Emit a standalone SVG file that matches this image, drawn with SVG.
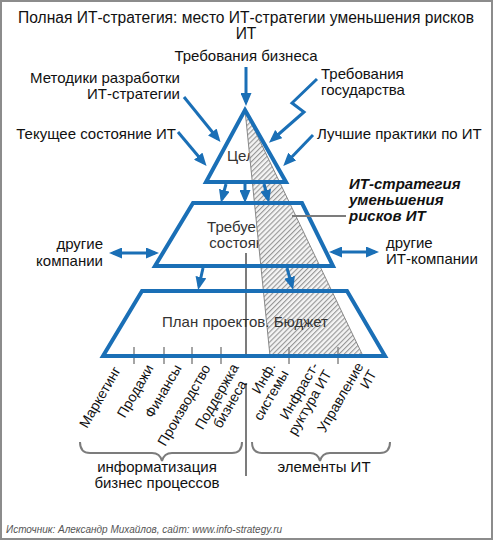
<svg xmlns="http://www.w3.org/2000/svg" width="493" height="540" viewBox="0 0 493 540">
<style>
text{font-family:"Liberation Sans",Arial,sans-serif;fill:#111}
.lbl{font-size:15px}
.sm{font-size:14px}
.in{font-size:15px;fill:#333;text-anchor:middle}
.blue{fill:none;stroke:#1a6fb6;stroke-width:4;stroke-linejoin:miter}
.arr{fill:none;stroke:#1a6fb6;stroke-width:3;marker-end:url(#ah)}
.dbl{fill:none;stroke:#1a6fb6;stroke-width:3;marker-end:url(#ah);marker-start:url(#ah)}
.gr{fill:none;stroke:#7c7c7c;stroke-width:2}
.rot{font-size:14px;text-anchor:end}
.bi{font-size:15px;font-weight:bold;font-style:italic}
</style>
<defs>
<marker id="ah" markerWidth="13" markerHeight="11" refX="9" refY="5.5" orient="auto-start-reverse" markerUnits="userSpaceOnUse">
<path d="M0,0 L13,5.5 L0,11 z" fill="#1a6fb6"/>
</marker>
<pattern id="hatch" patternUnits="userSpaceOnUse" width="3.6" height="3.6" patternTransform="rotate(45)">
<rect width="3.6" height="3.6" fill="#f4f4f4"/>
<line x1="0.6" y1="0" x2="0.6" y2="3.6" stroke="#8a8a8a" stroke-width="1"/>
</pattern>
</defs>
<rect x="1" y="1" width="491" height="538" fill="#fff" stroke="#8c8c8c" stroke-width="2"/>
<g id="title">
<text x="246" y="23" text-anchor="middle" style="font-size:15.6px">Полная ИТ-стратегия: место ИТ-стратегии уменьшения рисков</text>
<text x="246" y="39" text-anchor="middle" style="font-size:15.6px">ИТ</text>
</g>
<g id="goals-text"><text class="in" x="245" y="161">Цели</text></g>
<g id="req-text"><text class="in" x="245" y="232">Требуемое</text><text class="in" x="245" y="248">состояние</text></g>
<g id="hatched-strategy"><path d="M245,110 L363,356 L270,356 Z" fill="url(#hatch)" stroke="#888" stroke-width="1"/></g>
<g id="divider"><path class="gr" d="M246,253 V356 M246,383 V476"/></g>
<g id="ticks"><path stroke="#888" stroke-width="1.5" d="M134,347V364 M164,347V364 M192,347V364 M221,347V364 M289,347V364 M338,347V364"/></g>
<g id="goals"><path class="blue" d="M245,110 L286,182 L206,182 Z"/></g>
<g id="required-state"><path class="blue" d="M193,203 L302,203 L333,266 L155,266 Z"/></g>
<g id="plan"><path class="blue" d="M142,291 L347,291 L385,356 L103,356 Z"/>
<text class="in" x="245" y="327">План проектов. Бюджет</text></g>
<g id="connectors">
<path class="arr" d="M246,67 V102"/>
<path class="arr" d="M184,97 L218,139"/>
<path class="arr" d="M317,79 L292,103 L304,112 L272,140"/>
<path class="arr" d="M178,132 L204,163"/>
<path class="arr" d="M313,135 L286,163"/>
<path class="arr" d="M226,184 L222,199"/>
<path class="arr" d="M245,184 V199"/>
<path class="arr" d="M264,184 L268,199"/>
<path class="arr" d="M203,268 L199,286"/>
<path class="arr" d="M287,268 L292,286"/>
<path class="dbl" d="M113,253 H155"/>
<path class="dbl" d="M333,252 H375"/>
<path class="gr" d="M292,216 H346"/>
</g>
<g id="labels-top">
<text class="lbl" x="246" y="61" text-anchor="middle">Требования бизнеса</text>
<text class="lbl" x="180" y="83" text-anchor="end">Методики разработки</text>
<text class="lbl" x="180" y="99" text-anchor="end">ИТ-стратегии</text>
<text class="lbl" x="321" y="79">Требования</text>
<text class="lbl" x="321" y="95">государства</text>
<text class="lbl" x="176" y="139" text-anchor="end">Текущее состояние ИТ</text>
<text class="lbl" x="317" y="139">Лучшие практики по ИТ</text>
</g>
<g id="other-companies">
<text class="lbl" x="103" y="249" text-anchor="end">другие</text>
<text class="lbl" x="103" y="266" text-anchor="end">компании</text>
</g>
<g id="other-it-companies">
<text class="lbl" x="386" y="248">другие</text>
<text class="lbl" x="386" y="264">ИТ-компании</text>
</g>
<g id="strategy-label">
<text class="bi" x="349" y="189">ИТ-стратегия</text>
<text class="bi" x="349" y="205">уменьшения</text>
<text class="bi" x="349" y="221">рисков ИТ</text>
</g>
<g id="bottom-labels">
<text class="rot" transform="translate(121,370) rotate(-60)">Маркетинг</text>
<text class="rot" transform="translate(154,368) rotate(-60)">Продажи</text>
<text class="rot" transform="translate(182,368) rotate(-60)">Финансы</text>
<text class="rot" transform="translate(211,368) rotate(-60)">Производство</text>
<g transform="translate(221,399) rotate(-60)"><text class="sm" text-anchor="middle" y="0">Поддержка</text><text class="sm" text-anchor="middle" y="15">бизнеса</text></g>
<g transform="translate(276,366) rotate(-60)"><text class="rot" y="0">Инф.</text><text class="rot" y="15">системы</text></g>
<g transform="translate(319,366) rotate(-60)"><text class="rot" y="0">Инфраст-</text><text class="rot" y="15">руктура ИТ</text></g>
<g transform="translate(364,366) rotate(-60)"><text class="rot" y="0">Управление</text><text class="rot" y="15">ИТ</text></g>
</g>
<g id="brace-business">
<path class="gr" d="M80,442 Q80,453 90,453 L152,453 Q160,453 162,461 Q164,453 172,453 L232,453 Q242,453 242,442"/>
<text class="lbl" x="157" y="472" text-anchor="middle">информатизация</text>
<text class="lbl" x="157" y="488" text-anchor="middle">бизнес процессов</text>
</g>
<g id="brace-it">
<path class="gr" d="M252,442 Q252,453 262,453 L310,453 Q318,453 320,461 Q322,453 330,453 L380,453 Q390,453 390,442"/>
<text class="lbl" x="324" y="472" text-anchor="middle">элементы ИТ</text>
</g>
<g id="footer"><text x="6" y="533" style="font-size:10px;font-style:italic;fill:#555">Источник: Александр Михайлов, сайт: www.info-strategy.ru</text></g>
</svg>
